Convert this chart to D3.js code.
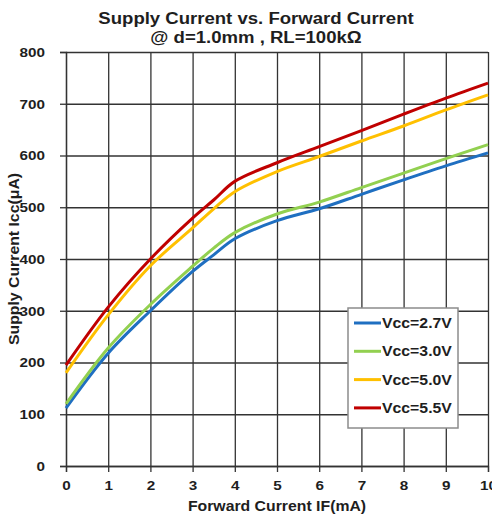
<!DOCTYPE html>
<html lang="en">
<head>
<meta charset="utf-8">
<title>Supply Current vs. Forward Current</title>
<script src="https://cdn.jsdelivr.net/npm/d3@7/dist/d3.min.js"></script>
<style>
  body { margin: 0; background: #fff; }
  svg { display: block; }
  text { font-family: "Liberation Sans", Arial, sans-serif; font-weight: bold; fill: #1e1e1e; }
</style>
</head>
<body>
<div id="chart"></div>
<script>
// data
var forwardCurrent = [0, 1, 2, 3, 3.5, 4, 5, 6, 7, 8, 9, 10];   // IF (mA)
var vcc27 = [112, 218, 300, 376, 408, 439, 474, 497, 525, 553, 580, 605];
var vcc30 = [120, 228, 312, 386, 421, 451, 487, 510, 538, 566, 594, 621];
var vcc50 = [180, 292, 387, 460, 497, 530, 569, 598, 628, 657, 688, 717];
var vcc55 = [195, 307, 400, 479, 514, 550, 586, 617, 648, 680, 711, 740];
var seriesNames = ["Vcc=2.7V", "Vcc=3.0V", "Vcc=5.0V", "Vcc=5.5V"];
var seriesColors = ["#1f6fc1", "#92d050", "#ffc000", "#c00000"];
var xTicks = [0, 1, 2, 3, 4, 5, 6, 7, 8, 9, 10];
var yTicks = [0, 100, 200, 300, 400, 500, 600, 700, 800];

var w = 492, h = 515;
var margin = {top: 52, right: 4, bottom: 49, left: 66};
var iw = w - margin.left - margin.right;
var ih = h - margin.top - margin.bottom;
var sx = 1.13; // glyphs in the picture are a bit wider than Liberation Sans

var svg = d3.select("#chart").append("svg")
  .attr("width", w)
  .attr("height", h);

//title
function label(x, y, str, size, anchor, stretch) {
  return svg.append("text")
    .attr("transform", "translate(" + x + "," + y + ") scale(" + stretch + ",1)")
    .attr("text-anchor", anchor)
    .attr("font-size", size + "px")
    .text(str);
}
label(256, 23.5, "Supply Current vs. Forward Current", 16, "middle", 1.16);
label(256, 42.5, "@ d=1.0mm , RL=100k\u03a9", 16, "middle", 1.16);

var g = svg.append("g").attr("transform", "translate(" + margin.left + "," + margin.top + ")");

var x = d3.scaleLinear().domain([0, 10]).range([0, iw]);
var y = d3.scaleLinear().domain([0, 800]).range([ih, 0]);

//grid
g.append("g")
  .attr("class", "grid")
  .call(d3.axisBottom(x).tickValues(xTicks).tickSize(-ih).tickFormat(""))
  .attr("transform", "translate(0," + ih + ")");
g.append("g")
  .attr("class", "grid")
  .call(d3.axisLeft(y).tickValues(yTicks).tickSize(-iw).tickFormat(""));
g.selectAll(".grid .domain").remove();
g.selectAll(".grid line").attr("stroke", "#333").attr("stroke-width", 1.3);

//axes with outside ticks and labels
var xAxis = g.append("g")
  .attr("transform", "translate(0," + ih + ")")
  .call(d3.axisBottom(x).tickValues(xTicks).tickSize(6).tickFormat(d3.format("d")));
var yAxis = g.append("g")
  .call(d3.axisLeft(y).tickValues(yTicks).tickSize(6).tickFormat(d3.format("d")));

[xAxis, yAxis].forEach(function(a) {
  a.select(".domain").attr("stroke", "#333").attr("stroke-width", 1.3);
  a.selectAll(".tick line").attr("stroke", "#333").attr("stroke-width", 1.3);
  a.selectAll("text").attr("fill", "#1e1e1e").attr("font-family", null).attr("font-size", "13.5px");
});
xAxis.selectAll("text")
  .attr("y", null).attr("dy", null)
  .attr("transform", "translate(0,24) scale(" + sx + ",1)");
yAxis.selectAll("text")
  .attr("x", null)
  .attr("transform", "translate(-21,0) scale(" + sx + ",1)");

//axis titles
label(margin.left + iw / 2, 511, "Forward Current IF(mA)", 14, "middle", sx);
svg.append("text")
  .attr("transform", "translate(19," + (margin.top + ih / 2) + ") rotate(-90) scale(" + sx + ",1)")
  .attr("text-anchor", "middle")
  .attr("font-size", "14px")
  .text("Supply Current Icc(\u03bcA)");

//lines
var allSeries = [vcc27, vcc30, vcc50, vcc55];
var line = d3.line()
  .x(function(d, i) { return x(forwardCurrent[i]); })
  .y(function(d) { return y(d); })
  .curve(d3.curveCatmullRom.alpha(0.5));

g.selectAll(".series")
  .data(allSeries)
  .enter()
  .append("path")
  .attr("class", "series")
  .attr("fill", "none")
  .attr("stroke", function(d, i) { return seriesColors[i]; })
  .attr("stroke-width", 3)
  .attr("stroke-linejoin", "round")
  .attr("d", line);

//legend
var lg = svg.append("g").attr("transform", "translate(348,308)");
lg.append("rect")
  .attr("width", 110)
  .attr("height", 120)
  .attr("fill", "#fff")
  .attr("stroke", "#8c8c8c")
  .attr("stroke-width", 1.5);
var item = lg.selectAll(".item")
  .data(seriesNames)
  .enter()
  .append("g")
  .attr("transform", function(d, i) { return "translate(0," + (15 + i * 28.3) + ")"; });
item.append("line")
  .attr("x1", 6).attr("x2", 33)
  .attr("stroke", function(d, i) { return seriesColors[i]; })
  .attr("stroke-width", 3);
item.append("text")
  .attr("transform", "translate(34,5) scale(" + sx + ",1)")
  .attr("font-size", "14px")
  .text(function(d) { return d; });
</script>
</body>
</html>
